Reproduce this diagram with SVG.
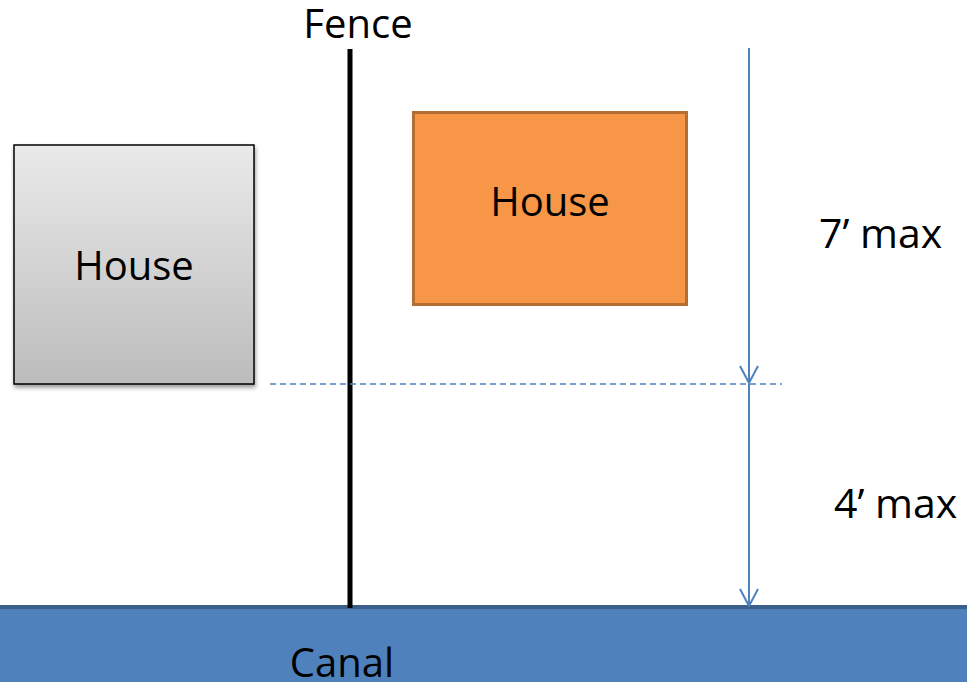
<svg xmlns="http://www.w3.org/2000/svg" width="967" height="682" viewBox="0 0 967 682">
<defs>
<linearGradient id="gray" x1="0" y1="0" x2="0" y2="1">
<stop offset="0" stop-color="#eaeaea"/>
<stop offset="1" stop-color="#bcbcbc"/>
</linearGradient>
<filter id="sh" x="-10%" y="-10%" width="130%" height="130%">
<feGaussianBlur in="SourceAlpha" stdDeviation="2"/>
<feOffset dx="1" dy="3"/>
<feComponentTransfer><feFuncA type="linear" slope="0.4"/></feComponentTransfer>
<feMerge><feMergeNode/><feMergeNode in="SourceGraphic"/></feMerge>
</filter>
<marker id="arr" viewBox="0 0 20 20" refX="19" refY="10" markerWidth="20" markerHeight="20" markerUnits="userSpaceOnUse" orient="auto">
<path d="M2,1 L19,10 L2,19" fill="none" stroke="#4f81bd" stroke-width="2"/>
</marker>
</defs>
<style>
text{font-family:"Open Sans","Noto Sans",sans-serif;font-size:40px;fill:#000}
.dim{stroke:#4f81bd;stroke-width:2;fill:none}
.lbl{font-size:41px}
</style>
<rect width="967" height="682" fill="#fff"/>
<g id="canal">
<rect x="0" y="606" width="967" height="76" fill="#4f81bd"/>
<rect x="0" y="605" width="967" height="4" fill="#3a5f8b"/>
<text x="342" y="677" text-anchor="middle">Canal</text>
</g>
<g id="fence">
<line x1="350" y1="49" x2="350" y2="608" stroke="#000" stroke-width="5"/>
<text x="358" y="38" text-anchor="middle">Fence</text>
</g>
<g id="house-left">
<rect x="14" y="145" width="240" height="239" fill="url(#gray)" stroke="#000" stroke-width="1.5" filter="url(#sh)"/>
<text x="134" y="280" text-anchor="middle">House</text>
</g>
<g id="house-right">
<rect x="413.5" y="112.5" width="273" height="192" fill="#f79646" stroke="#b66d31" stroke-width="3"/>
<text x="550" y="216" text-anchor="middle">House</text>
</g>
<g id="connectors">
<line x1="270" y1="384" x2="782" y2="384" stroke="#4f81bd" stroke-width="1.5" stroke-dasharray="6,4"/>
<line class="dim" x1="749" y1="48" x2="749" y2="383" marker-end="url(#arr)"/>
<line class="dim" x1="749" y1="384" x2="749" y2="606" marker-end="url(#arr)"/>
</g>
<g id="labels">
<text class="lbl" x="819" y="248">7’ max</text>
<text class="lbl" x="834" y="518">4’ max</text>
</g>
</svg>
